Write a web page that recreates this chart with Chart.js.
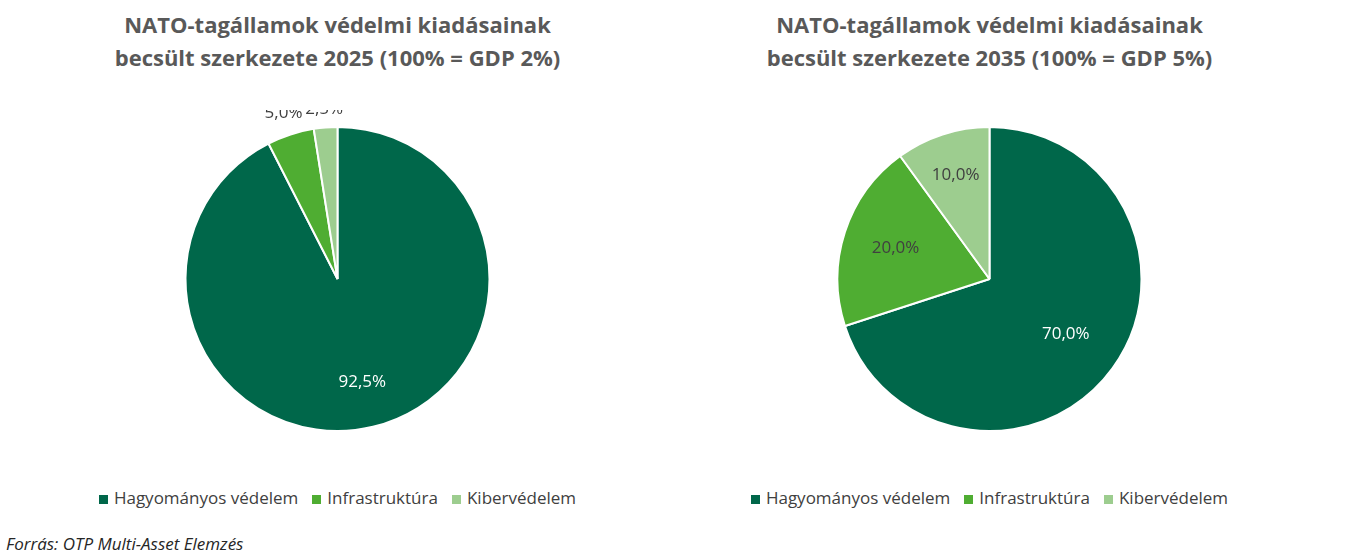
<!DOCTYPE html>
<html><head><meta charset="utf-8">
<script src="https://cdn.jsdelivr.net/npm/chart.js@4"></script>
<style>
body{margin:0;width:1350px;height:557px;background:#fff;font-family:"Open Sans","Liberation Sans",sans-serif;position:relative;overflow:hidden}
.title{position:absolute;top:8px;width:675px;text-align:center;font-weight:bold;font-size:22px;line-height:33px;color:#595959}
.box{position:absolute;top:110px;width:675px;height:340px}
.legend{position:absolute;top:486px;width:675px;text-align:center;font-size:17px;color:#404040}
.legend span{display:inline-block;margin:0 7px}
.legend i{display:inline-block;width:9px;height:9px;margin-right:6px}
.src{position:absolute;left:6px;top:532px;font-style:italic;font-size:17px;color:#262626}
</style></head><body>
<div class="title" style="left:0">NATO-tagállamok védelmi kiadásainak<br>becsült szerkezete 2025 (100% = GDP 2%)</div>
<div class="title" style="left:652px">NATO-tagállamok védelmi kiadásainak<br>becsült szerkezete 2035 (100% = GDP 5%)</div>
<div class="box" style="left:0"><canvas id="c1"></canvas></div>
<div class="box" style="left:652px"><canvas id="c2"></canvas></div>
<div class="legend" style="left:0" id="l1"></div>
<div class="legend" style="left:652px" id="l2"></div>
<div class="src">Forrás: OTP Multi-Asset Elemzés</div>
<script>
const categories = ["Hagyományos védelem", "Infrastruktúra", "Kibervédelem"];
const values2025 = [92.5, 5.0, 2.5];
const values2035 = [70.0, 20.0, 10.0];
const colors = ["#00674a", "#4fad32", "#9dcd8f"];

// label placement (fraction of radius) and colour per slice
const labelPlace = {
  c1: { r: [0.7, 1.15, 1.12], col: ["#fff", "#404040", "#404040"] },
  c2: { r: [0.62, 0.65, 0.72], col: ["#fff", "#404040", "#404040"] }
};

const labels = {
  id: "labels",
  afterDatasetsDraw(chart) {
    const ctx = chart.ctx, p = labelPlace[chart.canvas.id];
    ctx.save();
    ctx.font = "17px 'Open Sans', sans-serif";
    ctx.textAlign = "center"; ctx.textBaseline = "middle";
    chart.getDatasetMeta(0).data.forEach((arc, i) => {
      const mid = (arc.startAngle + arc.endAngle) / 2, r = arc.outerRadius * p.r[i];
      ctx.fillStyle = p.col[i];
      ctx.fillText(chart.data.datasets[0].data[i].toFixed(1).replace(".", ",") + "%",
        arc.x + Math.cos(mid) * r, arc.y + Math.sin(mid) * r);
    });
    ctx.restore();
  }
};

function make(id, values) {
  new Chart(document.getElementById(id), {
    type: "pie",
    data: { labels: categories, datasets: [{ data: values, backgroundColor: colors, borderColor: "#fff", borderWidth: 2 }] },
    options: {
      responsive: true, maintainAspectRatio: false, animation: false,
      layout: { padding: { top: 16, bottom: 18 } },
      plugins: { legend: { display: false }, tooltip: { enabled: false } }
    },
    plugins: [labels]
  });
}
make("c1", values2025);
make("c2", values2035);

for (const l of ["l1", "l2"]) {
  document.getElementById(l).innerHTML = categories.map((c, i) =>
    `<span><i style="background:${colors[i]}"></i>${c}</span>`).join("");
}
</script>
</body></html>
